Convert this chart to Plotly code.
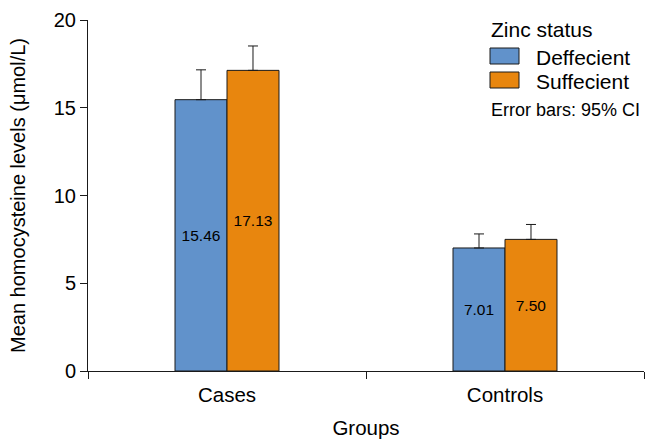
import plotly.graph_objects as go

categories = ["Cases", "Controls"]
series_names = ["Deffecient", "Suffecient"]
deficient_means = [15.46, 7.01]
sufficient_means = [17.13, 7.50]
deficient_err = [1.70, 0.80]
sufficient_err = [1.39, 0.85]
y_ticks = [0, 5, 10, 15, 20]

colors = ["#6192CB", "#E8860E"]
FONT = "Arial, Liberation Sans, sans-serif"

fig = go.Figure()
for name, vals, errs, col in [
    (series_names[0], deficient_means, deficient_err, colors[0]),
    (series_names[1], sufficient_means, sufficient_err, colors[1]),
]:
    fig.add_trace(go.Bar(
        x=categories, y=vals, name=name,
        marker=dict(color=col, line=dict(color="#1a1a1a", width=1)),
        text=[f"{v:.2f}" for v in vals],
        textposition="inside", insidetextanchor="middle",
        textfont=dict(family=FONT, size=15.5, color="black"),
        textangle=0,
        error_y=dict(type="data", symmetric=False, array=errs,
                     arrayminus=[0] * len(errs),
                     color="#1a1a1a", thickness=1, width=5),
        showlegend=False,
    ))

L, R, T, B = 88, 2, 20, 69
W, H = 646, 440
pw, ph = W - L - R, H - T - B

def px(x):
    return (x - L) / pw

def py(y):
    return (H - B - y) / ph

shapes = []
annotations = []
for i, (name, col) in enumerate(zip(series_names, colors)):
    top = 48 + i * 24
    shapes.append(dict(type="rect", xref="paper", yref="paper",
                       x0=px(490), x1=px(519), y0=py(top + 16), y1=py(top),
                       fillcolor=col, line=dict(color="#1a1a1a", width=1)))
    annotations.append(dict(xref="paper", yref="paper", x=px(534), y=py(top + 9),
                            text=name, showarrow=False, xanchor="left", yanchor="middle",
                            font=dict(family=FONT, size=21, color="black")))
annotations.append(dict(xref="paper", yref="paper", x=px(489), y=py(30),
                        text="Zinc status", showarrow=False, xanchor="left", yanchor="middle",
                        font=dict(family=FONT, size=21, color="black")))
annotations.append(dict(xref="paper", yref="paper", x=px(489), y=py(110),
                        text="Error bars: 95% CI", showarrow=False, xanchor="left", yanchor="middle",
                        font=dict(family=FONT, size=18, color="black")))

fig.update_layout(
    width=W, height=H,
    margin=dict(l=L, r=R, t=T, b=B),
    plot_bgcolor="white", paper_bgcolor="white",
    barmode="group", bargap=0.626, bargroupgap=0,
    font=dict(family=FONT, color="black"),
    shapes=shapes, annotations=annotations,
    xaxis=dict(
        showline=True, linecolor="#1a1a1a", linewidth=1,
        ticks="outside", ticklen=7, tickcolor="#1a1a1a", tickson="boundaries",
        tickfont=dict(size=20.5, family=FONT), ticklabelstandoff=5,
        title=dict(text="Groups", font=dict(size=20.5, family=FONT), standoff=16),
        showgrid=False, zeroline=False,
    ),
    yaxis=dict(
        range=[0, 20], tickvals=y_ticks,
        showline=True, linecolor="#1a1a1a", linewidth=1,
        ticks="outside", ticklen=7, tickcolor="#1a1a1a",
        tickfont=dict(size=20, family=FONT),
        title=dict(text="Mean homocysteine levels (μmol/L)", font=dict(size=20, family=FONT), standoff=22),
        showgrid=False, zeroline=False,
    ),
)

fig.write_html("out.html", config={"displayModeBar": False},
               post_script="document.body.style.margin='0';document.body.style.overflow='hidden';")
